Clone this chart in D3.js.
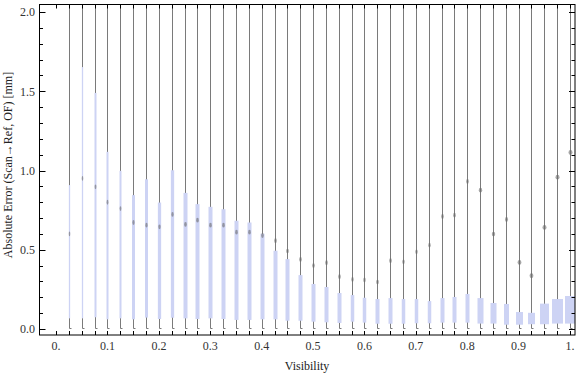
<!DOCTYPE html>
<html>
<head>
<meta charset="utf-8">
<script src="https://cdn.jsdelivr.net/npm/d3@7"></script>
<style>
  html, body { margin: 0; padding: 0; background: #fff; }
  svg { display: block; font-family: "Liberation Serif", "DejaVu Serif", serif; }
</style>
</head>
<body>
<svg id="chart" width="576" height="375"></svg>
<script>
// categories (visibility bins)
const visibility = [0.025, 0.05, 0.075, 0.1, 0.125, 0.15, 0.175, 0.2, 0.225, 0.25,
  0.275, 0.3, 0.325, 0.35, 0.375, 0.4, 0.425, 0.45, 0.475, 0.5,
  0.525, 0.55, 0.575, 0.6, 0.625, 0.65, 0.675, 0.7, 0.725, 0.75,
  0.775, 0.8, 0.825, 0.85, 0.875, 0.9, 0.925, 0.95, 0.975, 1.0];

// upper quartile
const q3 = [0.908, 1.653, 1.49, 1.118, 0.998, 0.845, 0.945, 0.798, 1.002, 0.859,
  0.788, 0.771, 0.756, 0.683, 0.672, 0.601, 0.494, 0.441, 0.34, 0.284,
  0.265, 0.227, 0.214, 0.197, 0.189, 0.195, 0.189, 0.189, 0.176, 0.195,
  0.202, 0.221, 0.195, 0.164, 0.158, 0.107, 0.102, 0.16, 0.189, 0.208];

// lower quartile
const q1 = [0.067, 0.067, 0.074, 0.061, 0.067, 0.061, 0.072, 0.063, 0.071, 0.067,
  0.063, 0.067, 0.063, 0.057, 0.057, 0.061, 0.061, 0.052, 0.052, 0.046,
  0.042, 0.038, 0.046, 0.04, 0.033, 0.033, 0.033, 0.036, 0.036, 0.04,
  0.04, 0.04, 0.034, 0.034, 0.027, 0.027, 0.03, 0.03, 0.034, 0.034];

// mean marker
const mean = [0.6, 0.95, 0.897, 0.8, 0.76, 0.672, 0.655, 0.645, 0.723, 0.66,
  0.687, 0.655, 0.655, 0.611, 0.611, 0.59, 0.557, 0.492, 0.439, 0.4,
  0.418, 0.33, 0.313, 0.309, 0.296, 0.431, 0.424, 0.487, 0.529, 0.71,
  0.718, 0.931, 0.876, 0.599, 0.691, 0.42, 0.336, 0.641, 0.958, 1.114];

// lower whisker end (upper whiskers all run past the top of the frame)
const whiskerLow = [0.003, 0.003, 0.003, 0.003, 0.003, 0.003, 0.003, 0.003, 0.003, 0.003,
  0.003, 0.003, 0.003, 0.003, 0.003, 0.003, 0.003, 0.003, 0.003, 0.003,
  0.003, 0.003, 0.003, 0.003, 0.003, 0.003, 0.003, 0.003, 0.003, 0.003,
  0.003, 0.003, 0.003, 0.003, 0.003, 0.003, 0.003, 0.003, 0.003, 0.003];

// relative box weight (drives box width)
const weight = [13, 13, 20, 20, 20, 30, 30, 33, 33, 40,
  40, 40, 40, 40, 40, 40, 40, 40, 40, 40,
  40, 40, 35, 35, 40, 40, 35, 35, 35, 40,
  40, 40, 60, 60, 50, 70, 70, 90, 110, 110];

const xTickLabels = ['0.', '0.1', '0.2', '0.3', '0.4', '0.5', '0.6', '0.7', '0.8', '0.9', '1.'];
const yTickLabels = ['0.0', '0.5', '1.0', '1.5', '2.0'];

const rows = visibility.map((v, i) => ({
  v, q1: q1[i], q3: q3[i], mean: mean[i], lo: whiskerLow[i], w: weight[i]
}));

const svg = d3.select('#chart');
const plotLeft = 39.5, plotRight = 575, plotTop = 4.5, plotBottom = 335;

const x = d3.scaleLinear().domain([-0.0323, 1.0097]).range([plotLeft, plotRight]);
const y = d3.scaleLinear().domain([-0.038, 2.048]).range([plotBottom, plotTop]);
const bw = d3.scaleLinear().domain([0, 110]).range([0, 11]);
const px = v => Math.round(x(v)) + 0.5;

svg.append('defs').append('clipPath').attr('id', 'plot')
  .append('rect')
  .attr('x', plotLeft).attr('y', plotTop)
  .attr('width', plotRight - plotLeft).attr('height', plotBottom - plotTop);

const plot = svg.append('g').attr('clip-path', 'url(#plot)');

// whiskers
plot.selectAll('line.whisker')
  .data(rows)
  .join('line')
  .attr('class', 'whisker')
  .attr('x1', d => px(d.v))
  .attr('x2', d => px(d.v))
  .attr('y1', d => y(d.lo))
  .attr('y2', y(y.domain()[1]))
  .attr('stroke', '#7a7a7a')
  .attr('stroke-width', 1);

// small caps at the lower whisker end
plot.selectAll('line.cap')
  .data(rows)
  .join('line')
  .attr('class', 'cap')
  .attr('x1', d => px(d.v))
  .attr('x2', d => px(d.v) + 2)
  .attr('y1', d => y(d.lo))
  .attr('y2', d => y(d.lo))
  .attr('stroke', '#7a7a7a')
  .attr('stroke-width', 1);

// boxes
plot.selectAll('rect.box')
  .data(rows)
  .join('rect')
  .attr('class', 'box')
  .attr('x', d => px(d.v) - bw(d.w) / 2)
  .attr('width', d => bw(d.w))
  .attr('y', d => y(d.q3))
  .attr('height', d => y(d.q1) - y(d.q3))
  .attr('fill', '#cdd3f4');

// mean markers
plot.selectAll('ellipse.mean')
  .data(rows)
  .join('ellipse')
  .attr('class', 'mean')
  .attr('cx', d => px(d.v))
  .attr('cy', d => y(d.mean))
  .attr('rx', d => Math.min(2, 0.5 + bw(d.w) / 5))
  .attr('ry', 2.4)
  .attr('fill', '#6a6a6a')
  .attr('fill-opacity', 0.6);

// frame
const frame = svg.append('g').attr('stroke', '#000').attr('stroke-width', 1).attr('fill', 'none');
frame.append('rect')
  .attr('x', plotLeft).attr('y', plotTop)
  .attr('width', plotRight - plotLeft).attr('height', plotBottom - plotTop);

// x ticks on bottom and top, one per bin plus zero
const xTicks = [0].concat(visibility);
frame.selectAll('line.xb')
  .data(xTicks)
  .join('line')
  .attr('class', 'xb')
  .attr('x1', d => px(d)).attr('x2', d => px(d))
  .attr('y1', plotBottom).attr('y2', plotBottom - 4);
frame.selectAll('line.xt')
  .data(xTicks)
  .join('line')
  .attr('class', 'xt')
  .attr('x1', d => px(d)).attr('x2', d => px(d))
  .attr('y1', plotTop).attr('y2', plotTop + 4);

// y ticks, major every 0.5, minor every 0.1
const yMinor = d3.range(0, 21).map(k => k / 10);
frame.selectAll('line.yl')
  .data(yMinor)
  .join('line')
  .attr('class', 'yl')
  .attr('x1', plotLeft)
  .attr('x2', (d, i) => plotLeft + (i % 5 === 0 ? 6 : 3.5))
  .attr('y1', d => Math.round(y(d)) + 0.5).attr('y2', d => Math.round(y(d)) + 0.5);
frame.selectAll('line.yr')
  .data(yMinor)
  .join('line')
  .attr('class', 'yr')
  .attr('x1', plotRight)
  .attr('x2', (d, i) => plotRight - (i % 5 === 0 ? 6 : 3.5))
  .attr('y1', d => Math.round(y(d)) + 0.5).attr('y2', d => Math.round(y(d)) + 0.5);

// tick labels
svg.append('g')
  .selectAll('text')
  .data(xTickLabels)
  .join('text')
  .attr('x', (d, i) => x(i / 10))
  .attr('y', 350)
  .attr('text-anchor', 'middle')
  .attr('font-size', 12)
  .attr('fill', '#333')
  .text(d => d);

svg.append('g')
  .selectAll('text')
  .data(yTickLabels)
  .join('text')
  .attr('x', 35)
  .attr('y', (d, i) => y(i * 0.5))
  .attr('dy', '0.35em')
  .attr('text-anchor', 'end')
  .attr('font-size', 12)
  .attr('fill', '#333')
  .text(d => d);

// axis titles
svg.append('text')
  .attr('x', 307)
  .attr('y', 370)
  .attr('text-anchor', 'middle')
  .attr('font-size', 12)
  .attr('fill', '#222')
  .text('Visibility');

svg.append('text')
  .attr('transform', 'translate(11.5,165) rotate(-90)')
  .attr('text-anchor', 'middle')
  .attr('font-size', 12)
  .attr('fill', '#222')
  .text('Absolute Error (Scan\u2192Ref, OF) [mm]');
</script>
</body>
</html>
